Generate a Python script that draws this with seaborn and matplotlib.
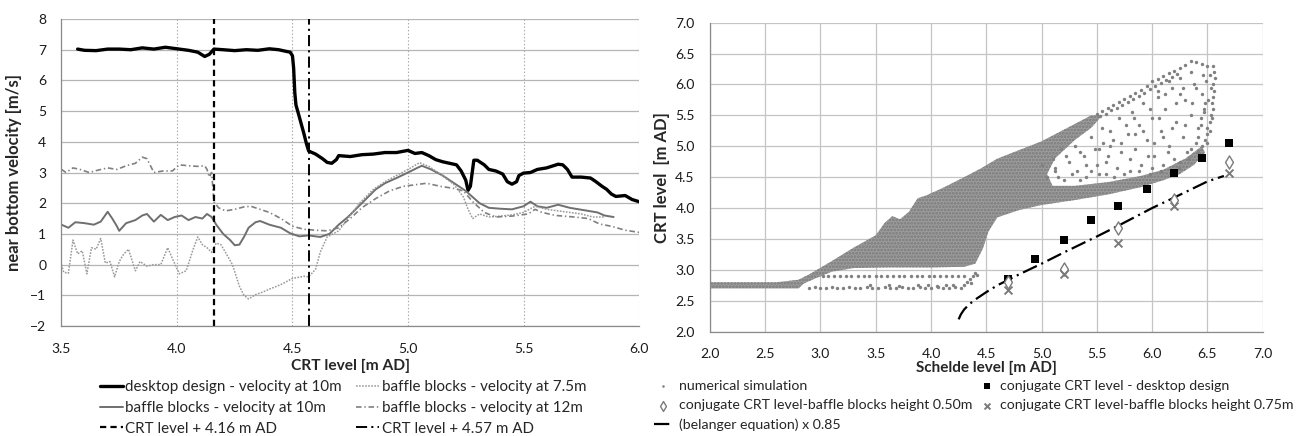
import matplotlib
matplotlib.use("Agg")
import matplotlib.pyplot as plt
import seaborn as sns
from matplotlib.ticker import MultipleLocator, FormatStrFormatter

# ---------------- LEFT PANEL DATA ----------------
desktop_x = [3.57,3.60,3.65,3.70,3.75,3.80,3.85,3.90,3.95,4.00,4.05,4.09,4.12,4.14,4.16,4.20,4.25,4.30,4.35,4.40,
             4.44,4.47,4.49,4.50,4.505,4.51,4.515,4.53,4.55,4.56,4.57,4.60,4.63,4.65,4.67,4.69,4.70,4.75,4.80,4.85,
             4.90,4.95,5.00,5.03,5.06,5.09,5.12,5.15,5.18,5.21,5.23,5.25,5.26,5.27,5.285,5.30,5.33,5.35,5.38,5.41,
             5.43,5.45,5.47,5.48,5.50,5.53,5.56,5.60,5.65,5.67,5.69,5.71,5.75,5.79,5.81,5.84,5.86,5.88,5.90,5.94,5.97,6.00]
desktop_y = [7.02,6.98,6.97,7.02,7.02,7.00,7.06,7.02,7.08,7.03,6.98,6.92,6.78,6.85,7.02,7.00,6.97,7.00,6.98,7.03,
             7.00,6.95,6.92,6.80,6.40,5.60,5.20,4.80,4.25,3.95,3.70,3.60,3.45,3.33,3.30,3.42,3.55,3.52,3.58,3.60,
             3.65,3.65,3.72,3.62,3.65,3.55,3.42,3.35,3.30,3.25,3.05,2.75,2.42,2.55,3.40,3.40,3.25,3.10,3.05,2.95,
             2.70,2.62,2.70,2.90,2.98,3.00,3.10,3.15,3.27,3.25,3.10,2.85,2.85,2.82,2.72,2.55,2.45,2.30,2.22,2.25,2.12,2.05]

baffle10_x = [3.50,3.53,3.56,3.60,3.64,3.67,3.70,3.72,3.74,3.75,3.78,3.82,3.85,3.87,3.90,3.93,3.96,3.99,4.02,4.05,
              4.08,4.11,4.13,4.15,4.17,4.20,4.23,4.25,4.27,4.29,4.31,4.34,4.36,4.40,4.45,4.49,4.53,4.57,4.62,4.66,
              4.70,4.74,4.78,4.82,4.86,4.90,4.95,5.00,5.04,5.06,5.10,5.15,5.20,5.25,5.28,5.31,5.35,5.40,5.45,5.50,
              5.53,5.56,5.60,5.65,5.70,5.74,5.78,5.82,5.85,5.89]
baffle10_y = [1.30,1.20,1.38,1.35,1.30,1.40,1.72,1.50,1.25,1.10,1.35,1.45,1.60,1.65,1.40,1.62,1.45,1.55,1.60,1.45,
              1.55,1.50,1.65,1.55,1.30,1.00,0.80,0.63,0.65,0.90,1.20,1.38,1.42,1.30,1.20,1.02,0.92,0.95,0.90,1.00,
              1.30,1.55,1.85,2.15,2.45,2.65,2.82,3.00,3.15,3.22,3.10,2.90,2.65,2.40,2.20,2.00,1.85,1.82,1.80,1.90,
              2.05,1.90,1.85,1.95,1.85,1.80,1.75,1.70,1.60,1.55]

baffle75_x = [3.50,3.51,3.53,3.55,3.57,3.59,3.61,3.63,3.65,3.67,3.69,3.71,3.73,3.75,3.77,3.79,3.82,3.84,3.87,3.90,
              3.93,3.96,3.98,4.01,4.04,4.07,4.09,4.11,4.13,4.15,4.17,4.19,4.21,4.24,4.27,4.29,4.31,4.34,4.37,4.40,
              4.45,4.50,4.55,4.57,4.60,4.62,4.65,4.70,4.74,4.79,4.85,4.90,4.95,5.00,5.05,5.09,5.14,5.20,5.24,5.26,
              5.28,5.31,5.35,5.40,5.45,5.50,5.55,5.60,5.65,5.70,5.75,5.80,5.85]
baffle75_y = [0.00,-0.25,-0.28,0.80,0.35,0.45,-0.30,0.55,0.50,0.85,0.05,0.10,-0.40,0.10,0.35,0.50,-0.20,0.10,-0.05,0.00,
              0.00,0.55,0.20,-0.30,-0.20,0.50,0.90,0.65,0.55,0.40,0.70,0.65,0.40,0.00,-0.70,-1.00,-1.12,-0.98,-0.90,-0.80,
              -0.65,-0.45,-0.38,-0.40,-0.15,0.40,0.90,1.10,1.50,2.00,2.45,2.70,2.90,3.10,3.32,3.20,2.95,2.60,2.20,1.80,
              1.50,1.65,1.55,1.58,1.62,1.70,1.90,1.80,1.75,1.70,1.65,1.55,1.55]

baffle12_x = [3.50,3.52,3.55,3.58,3.62,3.66,3.70,3.74,3.78,3.82,3.85,3.87,3.89,3.90,3.94,3.98,4.01,4.05,4.09,4.12,
              4.13,4.14,4.15,4.16,4.18,4.21,4.25,4.29,4.32,4.36,4.40,4.45,4.50,4.55,4.60,4.65,4.70,4.75,4.80,4.86,
              4.92,4.98,5.03,5.08,5.14,5.20,5.24,5.28,5.33,5.38,5.45,5.52,5.55,5.58,5.64,5.72,5.78,5.83,5.88,5.94,6.00]
baffle12_y = [3.10,3.00,3.15,3.10,3.00,3.08,3.15,3.10,3.22,3.30,3.50,3.45,3.15,3.00,3.05,3.05,3.25,3.22,3.20,3.22,
              3.10,2.85,3.00,2.05,1.85,1.75,1.80,1.88,1.90,1.80,1.70,1.50,1.25,1.15,1.12,1.10,1.20,1.50,1.85,2.15,
              2.40,2.55,2.60,2.65,2.55,2.48,2.40,2.05,1.70,1.55,1.58,1.65,1.80,1.70,1.60,1.55,1.50,1.32,1.25,1.12,1.05]

crt_levels = [4.16, 4.57]

left_labels = ["desktop design - velocity at 10m", "baffle blocks - velocity at 10m",
               "baffle blocks - velocity at 7.5m", "baffle blocks - velocity at 12m",
               "CRT level + 4.16 m AD", "CRT level + 4.57 m AD"]

# ---------------- RIGHT PANEL DATA ----------------
# outline of the dense part of the numerical-simulation cloud
sim_dense_x = [2.00,2.80,2.85,2.95,3.10,3.30,3.60,4.00,4.30,4.40,4.47,4.52,4.60,4.80,5.00,5.30,5.60,5.90,6.10,6.25,
               6.38,6.48,6.45,6.30,6.10,5.90,5.60,5.30,5.10,5.05,5.12,5.30,5.45,5.55,5.45,5.30,5.15,5.00,4.80,4.60,
               4.45,4.30,4.10,3.95,3.88,3.80,3.72,3.65,3.58,3.50,3.30,3.10,2.90,2.80,2.60,2.00]
sim_dense_y = [2.70,2.70,2.78,2.86,2.97,3.03,3.04,3.04,3.05,3.10,3.35,3.62,3.85,3.97,4.05,4.13,4.22,4.34,4.45,4.55,
               4.70,4.90,5.00,4.80,4.62,4.52,4.42,4.36,4.36,4.55,4.80,5.10,5.30,5.50,5.50,5.36,5.22,5.08,4.94,4.80,
               4.64,4.50,4.32,4.20,4.16,3.94,3.82,3.87,3.76,3.56,3.36,3.14,2.93,2.84,2.80,2.80]

# individual simulation points (sparse parts of the cloud)
sim_base_x = [2.90,2.95,3.00,3.05,3.10,3.15,3.20,3.26,3.31,3.36,3.42,3.47,3.52,3.58,3.63,3.68,3.74,3.79,3.84,3.90,
              3.95,4.00,4.06,4.11,4.16,4.22,4.27,3.45,3.62,3.71,3.88,3.97,4.05,4.14,4.20,4.30,4.33,4.35,4.38,4.40,4.42,4.36]
sim_base_y = [2.71,2.72,2.71,2.70,2.72,2.71,2.71,2.73,2.71,2.70,2.72,2.71,2.71,2.73,2.71,2.70,2.72,2.71,2.71,2.72,
              2.71,2.70,2.72,2.71,2.71,2.72,2.71,2.75,2.76,2.74,2.75,2.76,2.74,2.76,2.75,2.76,2.81,2.86,2.90,2.95,2.92,2.79]
sim_row_x = [3.02,3.07,3.12,3.18,3.23,3.28,3.34,3.39,3.44,3.50,3.55,3.60,3.66,3.71,3.76,3.82,3.87,3.92,3.98,4.03,
             4.08,4.14,4.19,4.24,4.30]
sim_row_y = [2.90,2.90,2.90,2.90,2.90,2.90,2.90,2.90,2.90,2.90,2.90,2.90,2.90,2.90,2.90,2.90,2.90,2.90,2.90,2.90,
             2.90,2.90,2.90,2.90,2.90]
sim_upper_x = [5.50,5.55,5.60,5.65,5.70,5.75,5.80,5.85,5.90,5.95,6.00,6.05,6.10,6.15,6.20,6.25,6.30,6.35,6.40,6.45,
               6.50,5.53,5.58,5.63,5.68,5.73,5.78,5.83,5.88,5.93,5.98,6.03,6.08,6.13,6.18,6.23]
sim_upper_y = [5.53,5.57,5.62,5.66,5.71,5.76,5.81,5.86,5.91,5.97,6.05,6.09,6.13,6.18,6.22,6.27,6.32,6.38,6.36,6.33,
               6.30,5.49,5.53,5.58,5.62,5.67,5.72,5.77,5.82,5.87,5.92,5.98,6.02,6.07,6.12,6.17]
sim_edge_x = [6.55,6.56,6.57,6.55,6.56,6.55,6.54,6.55,6.53,6.52,6.50,6.50,6.48,6.45,6.52,6.53,6.51,6.54,6.52,6.50,
              6.49,6.47,6.44,6.42]
sim_edge_y = [6.30,6.20,6.10,6.00,5.90,5.80,5.70,5.60,5.50,5.40,5.30,5.20,5.10,5.00,6.15,5.95,5.75,5.45,5.25,5.05,
              6.05,5.55,5.35,5.15]
sim_mid_x = [5.05,5.10,5.12,5.18,5.20,5.25,5.30,5.32,5.38,5.40,5.45,5.50,5.52,5.55,5.58,5.60,5.65,5.68,5.70,5.72,
             5.78,5.80,5.82,5.85,5.88,5.90,5.92,5.95,5.98,6.00,6.02,6.05,6.08,6.10,6.12,6.15,6.18,6.20,6.22,6.25,
             6.28,6.30,6.32,6.35,6.38,6.40,6.42,6.45,6.47,5.00,5.15,5.35,5.62,5.75,6.00,6.25,5.45,5.85,6.10,6.35,
             5.58,5.62,5.66,5.72,5.76,5.80,5.84,5.88,5.92,5.96,5.98,6.02,6.06,6.08,6.12,6.14,6.18,6.22,6.24,6.28,
             6.30,6.33,6.36,6.40,6.42,6.44,6.46,6.48,5.40,5.48,5.52,5.56,5.28,5.22,5.12,5.35,6.15,6.05,6.25,6.35]
sim_mid_y = [4.50,4.80,4.65,4.95,4.45,4.75,5.00,4.60,4.85,4.50,5.15,4.70,4.95,5.30,4.55,4.85,5.10,4.65,5.45,4.90,
             5.20,4.60,5.55,4.95,5.35,4.70,5.70,5.10,4.55,5.45,4.85,5.80,5.25,4.70,5.60,5.00,5.95,4.80,5.40,6.10,
             5.15,5.75,4.90,5.50,6.00,5.05,5.30,5.85,5.60,4.70,4.50,4.45,5.00,4.55,4.65,4.75,4.60,5.20,5.15,4.95,
             4.75,5.25,4.50,5.05,5.35,4.80,5.45,4.60,5.25,4.85,5.60,5.05,5.45,4.60,5.85,4.90,5.30,5.70,4.65,5.95,
             5.35,4.80,5.70,5.95,4.90,5.45,6.15,5.70,4.70,4.95,4.55,5.05,4.55,4.85,4.60,4.90,6.05,5.90,5.85,6.20]

desk_x = [4.70,4.94,5.20,5.45,5.69,5.95,6.20,6.45,6.70]
desk_y = [2.86,3.17,3.49,3.80,4.04,4.31,4.57,4.81,5.06]
bb050_x = [4.70,5.20,5.69,6.20,6.70]
bb050_y = [2.80,3.01,3.68,4.13,4.74]
bb075_x = [4.70,5.20,5.69,6.20,6.70]
bb075_y = [2.68,2.94,3.43,4.03,4.57]
bel_x = [4.25,4.27,4.30,4.35,4.40,4.50,4.60,4.70,4.80,5.00,5.20,5.50,5.70,6.00,6.20,6.50,6.65]
bel_y = [2.20,2.28,2.36,2.45,2.52,2.64,2.75,2.84,2.93,3.10,3.28,3.54,3.72,4.00,4.17,4.43,4.52]

right_labels = ["numerical simulation", "conjugate CRT level - desktop design",
                "conjugate CRT level-baffle blocks height 0.50m",
                "conjugate CRT level-baffle blocks height 0.75m", "(belanger equation) x 0.85"]

# ---------------- STYLE ----------------
sns.set_theme(style="white")
plt.rcParams['font.family'] = ['Lato', 'DejaVu Sans']
plt.rcParams['lines.scale_dashes'] = False
plt.rcParams['hatch.linewidth'] = 1.3

fig = plt.figure(figsize=(13.02, 4.36), dpi=100)
ax1 = fig.add_axes([0.0472, 0.2523, 0.4436, 0.7041])
ax2 = fig.add_axes([0.5453, 0.2392, 0.4244, 0.7088])

spine_c = '#8a8a8a'
for ax in (ax1, ax2):
    for s in ['top', 'right']:
        ax.spines[s].set_visible(False)
    for s in ['left', 'bottom']:
        ax.spines[s].set_color(spine_c)
        ax.spines[s].set_linewidth(0.9)
    ax.set_axisbelow(True)
    ax.tick_params(which='major', direction='out', length=4, width=0.8, color=spine_c,
                   labelsize=10, labelcolor='#1a1a1a')
    ax.tick_params(which='minor', direction='in', length=3, width=0.7, color=spine_c)
    ax.tick_params(axis='x', which='major', pad=8)
    ax.tick_params(axis='y', which='major', pad=7)

# ---------------- LEFT PANEL ----------------
sns.lineplot(x=desktop_x, y=desktop_y, ax=ax1, color='black', lw=2.4, sort=False, estimator=None, label=left_labels[0])
sns.lineplot(x=baffle10_x, y=baffle10_y, ax=ax1, color='#6f6f6f', lw=1.4, sort=False, estimator=None, label=left_labels[1])
sns.lineplot(x=baffle75_x, y=baffle75_y, ax=ax1, color='#9a9a9a', lw=1.1, sort=False, estimator=None, label=left_labels[2])
ax1.lines[-1].set_dashes([1.2, 1.0])
sns.lineplot(x=baffle12_x, y=baffle12_y, ax=ax1, color='#808080', lw=1.2, sort=False, estimator=None, label=left_labels[3])
ax1.lines[-1].set_dashes([4, 2, 1, 2])
l5 = ax1.axvline(crt_levels[0], color='black', lw=1.6, label=left_labels[4])
l5.set_dashes([4.5, 3])
l6 = ax1.axvline(crt_levels[1], color='black', lw=1.4, label=left_labels[5])
l6.set_dashes([8, 3, 1.5, 3])

ax1.set_xlim(3.5, 6.0)
ax1.set_ylim(-2, 8)
ax1.xaxis.set_major_locator(MultipleLocator(0.5))
ax1.xaxis.set_minor_locator(MultipleLocator(0.1))
ax1.yaxis.set_major_locator(MultipleLocator(1))
ax1.yaxis.set_minor_locator(MultipleLocator(0.2))
ax1.xaxis.set_major_formatter(FormatStrFormatter('%.1f'))
ax1.yaxis.grid(True, color='#b5b5b5', lw=0.9, ls='-')
ax1.xaxis.grid(True, color='#a8a8a8', lw=0.8, ls=(0, (1, 1.5)))
ax1.set_xlabel("CRT level [m AD]", fontsize=11.2, fontweight='bold', labelpad=3)
ax1.set_ylabel("near bottom velocity [m/s]", fontsize=12, fontweight='bold', labelpad=6)
h1, lab1 = ax1.get_legend_handles_labels()
if ax1.get_legend() is not None:
    ax1.get_legend().remove()
hd = dict(zip(lab1, h1))

leg_kw = dict(frameon=False, borderpad=0, borderaxespad=0, fontsize=10.9, labelspacing=0.44,
              loc='upper left', handletextpad=0.15, handlelength=1.52)
legA = fig.legend([hd[left_labels[i]] for i in (0, 1, 4)], [left_labels[i] for i in (0, 1, 4)],
                  bbox_to_anchor=(0.0768, 0.128), **leg_kw)
legB = fig.legend([hd[left_labels[i]] for i in (2, 3, 5)], [left_labels[i] for i in (2, 3, 5)],
                  bbox_to_anchor=(0.2738, 0.128), **leg_kw)

# ---------------- RIGHT PANEL ----------------
ax2.fill(sim_dense_x, sim_dense_y, facecolor='#9c9c9c', edgecolor='#7a7a7a', hatch='.....', lw=0, zorder=2)
all_sim_x = sim_base_x + sim_row_x + sim_upper_x + sim_edge_x + sim_mid_x
all_sim_y = sim_base_y + sim_row_y + sim_upper_y + sim_edge_y + sim_mid_y
sns.scatterplot(x=all_sim_x, y=all_sim_y, ax=ax2, color='#808080', s=6, linewidth=0, zorder=3,
                label=right_labels[0])
sns.lineplot(x=bel_x, y=bel_y, ax=ax2, color='black', lw=1.6, sort=False, estimator=None,
             label=right_labels[4], zorder=4)
ax2.lines[-1].set_dashes([11, 3.5, 1.5, 3.5])
sns.scatterplot(x=desk_x, y=desk_y, ax=ax2, marker='s', color='black', s=34, linewidth=0, zorder=5,
                label=right_labels[1])
sns.scatterplot(x=bb050_x, y=bb050_y, ax=ax2, marker='d', facecolor='white', edgecolor='#7a7a7a',
                s=45, linewidth=1.0, zorder=5, label=right_labels[2])
sns.scatterplot(x=bb075_x, y=bb075_y, ax=ax2, marker='x', color='#7a7a7a', s=32, linewidth=1.4, zorder=6,
                label=right_labels[3])

ax2.set_xlim(2.0, 7.0)
ax2.set_ylim(2.0, 7.0)
ax2.xaxis.set_major_locator(MultipleLocator(0.5))
ax2.xaxis.set_minor_locator(MultipleLocator(0.1))
ax2.yaxis.set_major_locator(MultipleLocator(0.5))
ax2.yaxis.set_minor_locator(MultipleLocator(0.1))
ax2.xaxis.set_major_formatter(FormatStrFormatter('%.1f'))
ax2.yaxis.set_major_formatter(FormatStrFormatter('%.1f'))
ax2.grid(True, which='major', color='#c4c4c4', lw=0.9, ls='-')
ax2.set_xlabel("Schelde level [m AD]", fontsize=11, fontweight='bold', labelpad=0)
ax2.set_ylabel("CRT level  [m AD]", fontsize=12, fontweight='bold', labelpad=4)
h2, lab2 = ax2.get_legend_handles_labels()
if ax2.get_legend() is not None:
    ax2.get_legend().remove()
hd2 = dict(zip(lab2, h2))

leg_kw2 = dict(frameon=False, borderpad=0, borderaxespad=0, fontsize=10.2, labelspacing=0.5,
               loc='upper left', handlelength=1.25, markerscale=0.75)
legC = fig.legend([hd2[right_labels[i]] for i in (0, 2, 4)], [right_labels[i] for i in (0, 2, 4)],
                  bbox_to_anchor=(0.5023, 0.128), handletextpad=0.5, **leg_kw2)
legD = fig.legend([hd2[right_labels[i]] for i in (1, 3)], [right_labels[i] for i in (1, 3)],
                  bbox_to_anchor=(0.7510, 0.128), handletextpad=0.3, **leg_kw2)

fig.savefig("out.png", dpi=100)
